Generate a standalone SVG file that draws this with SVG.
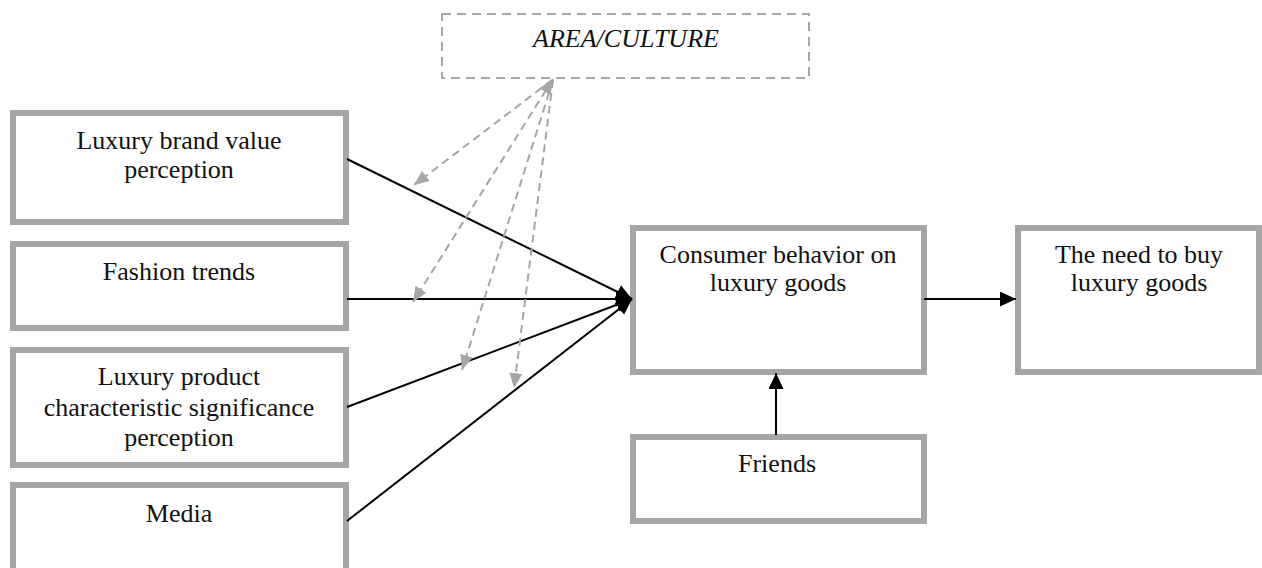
<svg xmlns="http://www.w3.org/2000/svg" width="1262" height="568" viewBox="0 0 1262 568">
<style>
  .box { fill: #ffffff; stroke: #a6a6a6; stroke-width: 6; }
  .dbox { fill: #ffffff; stroke: #a6a6a6; stroke-width: 2; stroke-dasharray: 9 6; }
  .t { font-family: "Liberation Serif", "Times New Roman", serif; font-size: 26px; fill: #111111; text-anchor: middle; }
  .it { font-style: italic; }
  .blk { stroke: #000000; stroke-width: 2; fill: none; }
  .gry { stroke: #a6a6a6; stroke-width: 2; fill: none; stroke-dasharray: 8 5; }
</style>
<defs>
  <marker id="ab" markerUnits="userSpaceOnUse" markerWidth="17" markerHeight="16" refX="16" refY="7.5" orient="auto">
    <path d="M0,0 L16,7.5 L0,15 Z" fill="#000000"/>
  </marker>
  <marker id="ag" markerUnits="userSpaceOnUse" markerWidth="16" markerHeight="14" refX="15" refY="6.5" orient="auto">
    <path d="M0,0 L15,6.5 L0,13 Z" fill="#a6a6a6"/>
  </marker>
  <marker id="ags" markerUnits="userSpaceOnUse" markerWidth="16" markerHeight="14" refX="0" refY="6.5" orient="auto">
    <path d="M15,0 L0,6.5 L15,13 Z" fill="#a6a6a6"/>
  </marker>
</defs>

<g id="area-culture">
  <rect class="dbox" x="442" y="14" width="367" height="64"/>
  <text class="t it" x="626" y="47">AREA/CULTURE</text>
</g>

<g id="brand-value">
  <rect class="box" x="13" y="113" width="333" height="109"/>
  <text class="t" x="179" y="149">Luxury brand value</text>
  <text class="t" x="179" y="178">perception</text>
</g>

<g id="fashion-trends">
  <rect class="box" x="13" y="244" width="333" height="84"/>
  <text class="t" x="179" y="280">Fashion trends</text>
</g>

<g id="product-characteristic">
  <rect class="box" x="13" y="350" width="333" height="115"/>
  <text class="t" x="179" y="385">Luxury product</text>
  <text class="t" x="179" y="416">characteristic significance</text>
  <text class="t" x="179" y="446">perception</text>
</g>

<g id="media">
  <rect class="box" x="13" y="485" width="333" height="86"/>
  <text class="t" x="179" y="522">Media</text>
</g>

<g id="consumer-behavior">
  <rect class="box" x="633" y="228" width="291" height="144"/>
  <text class="t" x="778" y="263">Consumer behavior on</text>
  <text class="t" x="778" y="291">luxury goods</text>
</g>

<g id="need-to-buy">
  <rect class="box" x="1018" y="228" width="241" height="144"/>
  <text class="t" x="1139" y="263">The need to buy</text>
  <text class="t" x="1139" y="291">luxury goods</text>
</g>

<g id="friends">
  <rect class="box" x="633" y="437" width="291" height="84"/>
  <text class="t" x="777" y="472">Friends</text>
</g>

<g id="connectors">
  <line class="blk" x1="347" y1="159" x2="632" y2="299" marker-end="url(#ab)"/>
  <line class="blk" x1="347" y1="299" x2="632" y2="299" marker-end="url(#ab)"/>
  <line class="blk" x1="347" y1="407" x2="632" y2="299" marker-end="url(#ab)"/>
  <line class="blk" x1="347" y1="521" x2="632" y2="299" marker-end="url(#ab)"/>
  <line class="blk" x1="924" y1="299" x2="1016" y2="299" marker-end="url(#ab)"/>
  <line class="blk" x1="776" y1="435" x2="776" y2="373" marker-end="url(#ab)"/>
  <line class="gry" x1="552" y1="80" x2="414" y2="185" marker-end="url(#ag)"/>
  <line class="gry" x1="553" y1="79" x2="413" y2="302" marker-start="url(#ags)" marker-end="url(#ag)"/>
  <line class="gry" x1="553" y1="80" x2="462" y2="370" marker-end="url(#ag)"/>
  <line class="gry" x1="553" y1="80" x2="514" y2="388" marker-end="url(#ag)"/>
</g>
</svg>
